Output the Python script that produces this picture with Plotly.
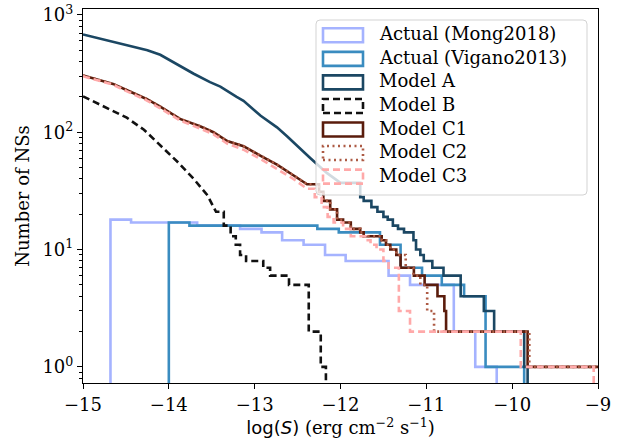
import plotly.graph_objects as go

# ---------------- data ----------------
# cumulative counts N(>S): bin edge log(S) and count to the right of that edge
mong_x = [-14.68, -14.44, -13.67, -13.17, -12.92, -12.68, -12.43, -12.18, -11.94, -11.44, -11.19, -10.68, -10.43, -10.18]
mong_n = [18, 17, 16, 15, 14, 12, 11, 9, 8, 6, 5, 2, 1, 0]

vig_x = [-14.0, -13.76, -12.27, -12.02, -11.54, -11.30, -11.05, -10.82, -10.56, -10.31, -9.86]
vig_n = [17, 16, 15, 14, 11, 7, 6, 5, 4, 1, 0]

modelA_x = [-15.0, -14.68, -14.49, -14.25, -14.10, -13.87, -13.71, -13.52, -13.40, -13.21, -13.13, -12.93,
            -12.74, -12.62, -12.55, -12.35, -12.16,
            -12.00, -11.77, -11.73, -11.64, -11.57, -11.50, -11.45, -11.39, -11.33, -11.26, -11.15, -11.12,
            -11.07, -11.03, -10.93, -10.80, -10.60, -10.33, -10.21, -9.86, -9.82]
modelA_n = [680, 598, 550, 500, 457, 365, 315, 267, 245, 200, 185, 138,
            110, 92, 82, 60, 45,
            37, 28, 26, 23, 21, 19, 18, 16, 15, 14, 12, 10,
            9, 8, 7, 6, 4, 3, 2, 1, 0]

modelB_x = [-15.0, -14.68, -14.49, -14.29, -14.10, -13.90, -13.71, -13.55, -13.45, -13.36, -13.28, -13.22,
            -13.17, -13.10, -12.90, -12.82, -12.60, -12.37, -12.23, -12.17]
modelB_n = [202, 155, 133, 105, 78, 56, 40, 29, 21, 16, 13, 11,
            9, 8, 7, 6, 5, 2, 1, 0]

modelC1_x = [-15.0, -14.65, -14.5, -14.26, -14.1, -13.87, -13.63, -13.48, -13.32, -13.13, -12.93, -12.74,
             -12.55, -12.39, -12.25, -12.20, -12.12, -12.04, -11.97, -11.88, -11.77, -11.73, -11.52, -11.47,
             -11.42, -11.35, -11.30, -11.145, -11.02, -10.87, -10.79, -10.77, -9.82, -8.8]
modelC1_n = [305, 258, 230, 192, 165, 130, 112, 100, 84, 76, 63, 53,
             43, 36, 31, 26, 22, 18, 17, 15, 14, 13, 12, 11,
             10, 9, 7, 6, 5, 4, 3, 2, 1, 0]

modelC2_x = [-15.0, -14.65, -14.5, -14.26, -14.1, -13.87, -13.63, -13.48, -13.32, -13.13, -12.93, -12.74,
             -12.55, -12.39, -12.25, -12.20, -12.12, -12.04, -11.97, -11.88, -11.77, -11.73, -11.52, -11.47,
             -11.42, -11.35, -11.24, -11.15, -11.07, -10.99, -10.91, -9.80, -8.8]
modelC2_n = [305, 258, 230, 192, 165, 130, 112, 100, 84, 76, 63, 53,
             43, 36, 31, 26, 22, 18, 17, 15, 14, 13, 12, 11,
             10, 9, 7, 6, 5, 3, 2, 1, 0]

modelC3_x = [-15.0, -14.65, -14.5, -14.26, -14.1, -13.87, -13.63, -13.48, -13.32, -13.13, -12.93, -12.74,
             -12.55, -12.39, -12.30, -12.22, -12.15, -12.08, -11.97, -11.88, -11.70, -11.65, -11.58, -11.50,
             -11.44, -11.32, -11.19, -9.90, -9.05]
modelC3_n = [300, 254, 225, 187, 160, 126, 107, 96, 80, 71, 59, 49,
             40, 33, 28, 23, 19, 17, 15, 13, 12, 11, 10, 8,
             7, 3, 2, 1, 0]

series_names = ["Actual (Mong2018)", "Actual (Vigano2013)", "Model A", "Model B",
                "Model C1", "Model C2", "Model C3"]
y_tick_vals = [1, 10, 100, 1000]
y_tick_text = ["10<sup>0</sup>", "10<sup>1</sup>", "10<sup>2</sup>", "10<sup>3</sup>"]
x_tick_vals = [-15, -14, -13, -12, -11, -10, -9]
x_tick_text = ["\u221215", "\u221214", "\u221213", "\u221212", "\u221211", "\u221210", "\u22129"]

# ---------------- styling ----------------
FLOOR = 0.01
colors = ["#a5b3ff", "#3a8cc0", "#1b4763", "#111111", "#5a1c0c", "#ad5b45", "#ffa9a9"]
dashes = ["solid", "solid", "solid", "7px,4px", "solid", "2px,3.5px", "7px,4px"]
LW = 2.6
SERIF = "DejaVu Serif"


def vertices(xs, ns, step_from, start_zero=False):
    vx, vy = [], []
    prev = 0 if start_zero else None
    for x, n in zip(xs, ns):
        if prev is not None and x >= step_from:
            vx.append(x)
            vy.append(max(prev, FLOOR))
        vx.append(x)
        vy.append(max(n, FLOOR))
        prev = n
    return vx, vy


data = [
    (mong_x, mong_n, -99, True),
    (vig_x, vig_n, -99, True),
    (modelA_x, modelA_n, -11.8, False),
    (modelB_x, modelB_n, -13.4, False),
    (modelC1_x, modelC1_n, -12.3, False),
    (modelC2_x, modelC2_n, -12.3, False),
    (modelC3_x, modelC3_n, -12.35, False),
]

fig = go.Figure()
for (xs, ns, sf, sz), name, c, d in zip(data, series_names, colors, dashes):
    vx, vy = vertices(xs, ns, sf, sz)
    fig.add_trace(go.Scatter(x=vx, y=vy, mode="lines", name=name, showlegend=False,
                             line=dict(color=c, width=LW, dash=d)))

# plot area in pixels
W, H = 628, 441
ML, MR, MT, MB = 83, 30, 9, 58
PW, PH = W - ML - MR, H - MT - MB


def px(xp):
    return (xp - ML) / PW


def py(yp):
    return (H - MB - yp) / PH


minor_vals = [0.8, 0.9] + [k * m for m in (1, 10, 100) for k in range(2, 10)]

fig.update_layout(
    width=W, height=H,
    margin=dict(l=ML, r=MR, t=MT, b=MB, autoexpand=False),
    plot_bgcolor="white", paper_bgcolor="white",
    font=dict(family=SERIF, size=18, color="black"),
    xaxis=dict(range=[-15, -9], tickvals=x_tick_vals, ticktext=x_tick_text,
               ticks="outside", ticklen=5, tickwidth=1.1, tickcolor="black",
               showline=True, linecolor="black", linewidth=1.1, mirror=True,
               showgrid=False, zeroline=False, automargin=False,
               title=dict(text='<span style="font-family:DejaVu Sans">log(<i>S</i>)</span> (erg cm<sup>\u22122</sup> s<sup>\u22121</sup>)',
                          font=dict(family=SERIF, size=18), standoff=6)),
    yaxis=dict(type="log", range=[-0.137, 3.05], tickvals=y_tick_vals, ticktext=y_tick_text,
               ticks="outside", ticklen=5, tickwidth=1.1, tickcolor="black",
               showline=True, linecolor="black", linewidth=1.1, mirror=True,
               showgrid=False, zeroline=False, automargin=False,
               minor=dict(tickvals=minor_vals, ticks="outside", ticklen=3, tickwidth=0.8, tickcolor="black", showgrid=False),
               title=dict(text="Number of NSs", font=dict(family=SERIF, size=18), standoff=8)),
)

# ---------------- legend (drawn like matplotlib patches) ----------------
lx0, lx1, ly0, ly1 = px(316), px(587), py(195), py(20)
rx, ry = 4 / PW, 4 / PH
path = (f"M{lx0+rx},{ly1} L{lx1-rx},{ly1} Q{lx1},{ly1} {lx1},{ly1-ry} "
        f"L{lx1},{ly0+ry} Q{lx1},{ly0} {lx1-rx},{ly0} L{lx0+rx},{ly0} Q{lx0},{ly0} {lx0},{ly0+ry} "
        f"L{lx0},{ly1-ry} Q{lx0},{ly1} {lx0+rx},{ly1} Z")
shapes = [dict(type="path", path=path, xref="paper", yref="paper", layer="above",
               fillcolor="rgba(255,255,255,0.8)", line=dict(color="#d3d3d3", width=1))]
annotations = []
row0, drow = 35.3, 23.55
for i, (name, c, d) in enumerate(zip(series_names, colors, dashes)):
    yc = row0 + i * drow
    shapes.append(dict(type="rect", xref="paper", yref="paper", layer="above",
                       x0=px(323), x1=px(363), y0=py(yc + 7), y1=py(yc - 7),
                       line=dict(color=c, width=LW, dash=d), fillcolor="rgba(0,0,0,0)"))
    annotations.append(dict(text=name, xref="paper", yref="paper", x=px(377), y=py(yc - 1.5),
                            xanchor="left", yanchor="middle", showarrow=False,
                            font=dict(family=SERIF, size=18, color="black")))
fig.update_layout(shapes=shapes, annotations=annotations)

fig.write_html("out.html")
